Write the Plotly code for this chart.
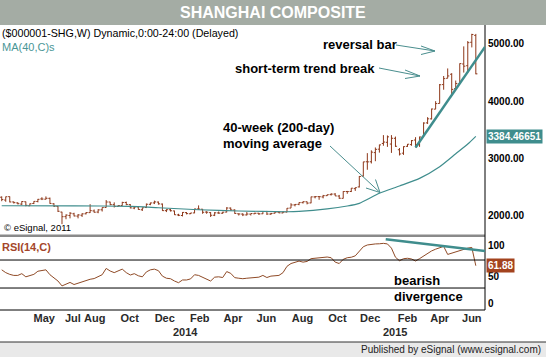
import plotly.graph_objects as go
import pandas as pd

W, H = 546, 357
def fx(x): return x / W
def fy(y): return 1 - y / H

FONT = "Liberation Sans, Arial, sans-serif"
BAR = "#8e381a"
RSI_C = "#8f4a26"
TEAL = "#3f8d8d"

# ---------------- data ----------------
week_dates = pd.date_range("2013-03-15", "2015-06-19", freq="W-FRI")

open_2013 = [2320,2270,2330,2237,2220,2200,2240,2170,2210,2245,2290,2285,2300,2205,2160,2060,1980,2000,2030,1990,2005,2030,2050,2080,2060,2100,2140,2236,2190,2160,2175,2228,2190,2130,2150,2100,2140,2195,2220,2235,2200,2085]
high_2013 = [2335,2331,2333,2245,2232,2250,2245,2210,2250,2290,2320,2334,2314,2215,2166,2065,2020,2060,2048,2025,2040,2060,2198,2105,2110,2140,2270,2240,2230,2180,2240,2243,2200,2160,2160,2140,2210,2225,2260,2245,2210,2110]
low_2013 = [2250,2240,2230,2210,2195,2180,2162,2165,2200,2230,2270,2280,2205,2150,2062,1849,1935,1950,1985,1950,1975,2020,2045,2050,2040,2070,2140,2180,2140,2155,2170,2180,2125,2110,2100,2080,2130,2180,2200,2190,2080,2060]
close_2013 = [2279,2328,2237,2225,2206,2245,2178,2205,2247,2283,2288,2301,2211,2162,2074,1979,2007,2040,1992,2010,2029,2052,2085,2057,2098,2139,2236,2191,2160,2175,2228,2193,2133,2149,2106,2135,2197,2220,2238,2204,2085,2101]

open_2014 = [2100,2080,2010,2000,2050,2030,2045,2115,2110,2060,2050,2005,2045,2040,2060,2130,2095,2030,2025,2010,2025,2030,2040,2030,2070,2025,2040,2060,2045,2060,2130,2185,2195,2225,2240,2220,2325,2330,2325,2347,2365,2375,2340,2300,2420,2420,2470,2500,2690,2940,2940,3100]
high_2014 = [2116,2085,2030,2060,2060,2045,2120,2177,2115,2075,2060,2060,2070,2065,2146,2140,2110,2035,2040,2060,2030,2050,2045,2075,2080,2045,2070,2075,2070,2130,2215,2200,2230,2248,2245,2330,2340,2340,2360,2365,2390,2391,2360,2425,2430,2480,2490,2690,2940,3091,3140,3190]
low_2014 = [2070,2010,1990,1984,2020,2025,2040,2100,2030,2030,1974,1990,2030,2030,2055,2085,2030,2000,1990,2000,2000,2025,2010,2025,2010,2010,2035,2040,2040,2055,2130,2160,2180,2210,2195,2215,2300,2275,2300,2340,2350,2340,2290,2298,2380,2410,2430,2490,2680,2800,2910,2950]
close_2014 = [2083,2013,2004,2054,2033,2044,2115,2113,2056,2057,2004,2047,2042,2058,2131,2098,2036,2027,2011,2026,2035,2039,2029,2070,2026,2036,2059,2047,2060,2127,2185,2194,2226,2241,2217,2326,2331,2329,2347,2364,2374,2342,2302,2420,2418,2478,2487,2683,2938,2938,3108,3157]

open_2015 = [3160,3260,3280,3250,3350,3150,3090,3210,3240,3320,3240,3380,3620,3690,3860,3960,4290,4400,4470,4220,4300,4650,4620,5030,5150]
high_2015 = [3240,3406,3400,3406,3380,3180,3210,3250,3320,3370,3380,3630,3720,3870,4000,4300,4440,4572,4490,4360,4660,4958,5051,5178,5176]
low_2015 = [3100,3220,3200,3095,3200,3050,3060,3200,3220,3190,3200,3380,3600,3680,3860,3960,4200,4400,4100,4200,4300,4500,4500,4940,4470]
close_2015 = [3235,3285,3376,3351,3211,3076,3204,3247,3310,3241,3373,3617,3691,3863,3958,4287,4394,4441,4206,4308,4657,4612,5023,5166,4478]

opens = open_2013 + open_2014 + open_2015
highs = high_2013 + high_2014 + high_2015
lows = low_2013 + low_2014 + low_2015
closes = close_2013 + close_2014 + close_2015

ma_dates = ["2013-03-15","2013-07-19","2013-10-25","2013-12-13","2014-02-21","2014-05-02",
            "2014-07-25","2014-08-15","2014-10-03","2014-11-07","2014-11-28","2015-01-02",
            "2015-02-06","2015-03-13","2015-04-17","2015-05-15","2015-06-05","2015-06-19"]
ma_values = [2171,2170,2160,2136,2101,2079,2066,2072,2115,2166,2213,2388,2516,2650,2854,3080,3250,3384.46651]

rsi_values = [56,52,49.5,48,48,50.5,46,47.5,49.5,54,
              55,56,49,45,40,33,36,38,35,37,
              39,41.5,42.5,43.5,46,49,58,54.3,52,54,
              57,52,48.6,50.5,47.5,46,53,56,57,54.8,
              47,44,43.3,40,37.6,41.5,41.5,43,49,48,
              45,42.5,40,45.5,46,45,53.5,51,44.8,44,
              43.3,44,44.8,44.8,45.5,48,45,47,48,48,
              51.9,61,65,66.5,68.5,67,68,72,72.8,73.3,
              73.8,74.3,73.3,67,65,71,73.3,74,76,83,
              89,91.5,92.5,93,93.2,93.8,93,87,74,69,
              71.9,72.5,71.5,68.6,72,76,80,83,85.5,87.5,
              89.5,78,80,82,84,85.7,87,88,61.88]

price_ticks = [2000, 3000, 4000, 5000]
rsi_ticks = ["100", "50", "0"]
month_tick_dates = ["2013-05-28","2013-07-17","2013-08-24","2013-10-24","2013-12-24","2014-02-23",
                    "2014-04-22","2014-06-19","2014-08-21","2014-10-21","2014-12-17","2015-02-20",
                    "2015-04-17","2015-06-12"]
month_tick_text = ["May","Jul","Aug","Oct","Dec","Feb","Apr","Jun","Aug","Oct","Dec","Feb","Apr","Jun"]
year_labels = [("2014-01-30", "2014"), ("2015-01-30", "2015")]

# ---------------- figure ----------------
fig = go.Figure()
fig.add_trace(go.Ohlc(
    x=week_dates, open=opens, high=highs, low=lows, close=closes,
    increasing=dict(line=dict(color=BAR, width=1)),
    decreasing=dict(line=dict(color=BAR, width=1)),
    tickwidth=0.4, xaxis="x", yaxis="y", hoverinfo="skip", showlegend=False))
fig.add_trace(go.Scatter(
    x=ma_dates, y=ma_values, mode="lines",
    line=dict(color=TEAL, width=1.2, shape="spline", smoothing=0.6),
    xaxis="x", yaxis="y", hoverinfo="skip", showlegend=False))
fig.add_trace(go.Scatter(
    x=week_dates, y=rsi_values, mode="lines",
    line=dict(color=RSI_C, width=1),
    xaxis="x2", yaxis="y2", hoverinfo="skip", showlegend=False))

XR = ["2013-03-12", "2015-07-05"]
xdom = [0, fx(485)]
fig.update_layout(
    width=W, height=H, margin=dict(l=0, r=0, t=0, b=0),
    paper_bgcolor="white", plot_bgcolor="white",
    font=dict(family=FONT, color="black"),
    showlegend=False,
    xaxis=dict(domain=xdom, range=XR, type="date", anchor="y", showticklabels=False,
               showgrid=False, zeroline=False, showline=False, ticks="",
               rangeslider=dict(visible=False), fixedrange=True),
    yaxis=dict(domain=[fy(235), fy(25)], range=[1659, 5332], anchor="x",
               showticklabels=False, showgrid=False, zeroline=False, ticks=""),
    xaxis2=dict(domain=xdom, range=XR, type="date", anchor="y2", matches="x",
                showgrid=False, zeroline=False, showline=False, ticks="",
                tickmode="array", tickvals=month_tick_dates, ticktext=month_tick_text,
                tickfont=dict(family=FONT, size=11, color="#2a2a2a", weight="bold"),
                ticklabelstandoff=0),
    yaxis2=dict(domain=[fy(310), fy(237)], range=[-1.4, 102.9], anchor="x2",
                showticklabels=False, showgrid=False, zeroline=False, ticks=""),
)

shapes = []
# title bar & footer
shapes.append(dict(type="rect", xref="paper", yref="paper", x0=0, x1=1, y0=fy(25), y1=1,
                   fillcolor="#a4aca4", line=dict(width=0), layer="below"))
shapes.append(dict(type="rect", xref="paper", yref="paper", x0=0, x1=1, y0=0, y1=fy(342),
                   fillcolor="#e9e9e9", line=dict(width=0), layer="below"))
shapes.append(dict(type="line", xref="paper", yref="paper", x0=0, x1=1, y0=fy(342), y1=fy(342),
                   line=dict(color="#333333", width=1)))
# panel separator
shapes.append(dict(type="rect", xref="paper", yref="paper", x0=0, x1=fx(485), y0=fy(237), y1=fy(234.5),
                   fillcolor="#8a8a8a", line=dict(width=0)))
# right axis line
shapes.append(dict(type="line", xref="paper", yref="paper", x0=fx(485), x1=fx(485), y0=fy(25), y1=fy(310),
                   line=dict(color="black", width=1)))
# RSI 70/30 lines and bottom border
for lvl in (70, 30):
    shapes.append(dict(type="line", xref="x2 domain", yref="y2", x0=0, x1=1, y0=lvl, y1=lvl,
                       line=dict(color="black", width=1)))
shapes.append(dict(type="line", xref="paper", yref="paper", x0=0, x1=fx(485), y0=fy(310), y1=fy(310),
                   line=dict(color="black", width=1)))
# trend lines
shapes.append(dict(type="line", xref="x", yref="y", x0="2015-03-06", y0=3190, x1="2015-07-05", y1=4950,
                   line=dict(color=TEAL, width=2.5)))
shapes.append(dict(type="line", xref="x2", yref="y2", x0="2015-01-13", y0=99.6, x1="2015-07-05", y1=82.9,
                   line=dict(color=TEAL, width=2.5)))

# arrows (pixel positions)
def arrow(p0, tip, a1, a2):
    out = []
    for a, b in ((p0, tip), (a1, tip), (a2, tip)):
        out.append(dict(type="line", xref="paper", yref="paper",
                        x0=fx(a[0]), y0=fy(a[1]), x1=fx(b[0]), y1=fy(b[1]),
                        line=dict(color="#4a8e8e", width=1)))
    return out
shapes += arrow((396, 45), (435, 51), (421, 46), (421, 54.5))
shapes += arrow((379, 68), (420, 76), (405, 70), (405, 78.5))
shapes += arrow((330, 146), (380, 192.5), (375.5, 179.5), (366, 188))
fig.update_layout(shapes=shapes)

ann = []
def text(x, y, s, size=11, color="black", bold=False, xanchor="left", **kw):
    d = dict(xref="paper", yref="paper", x=fx(x), y=fy(y), text=s, showarrow=False,
             xanchor=xanchor, yanchor="middle",
             font=dict(family=FONT, size=size, color=color, weight="bold" if bold else "normal"))
    d.update(kw)
    ann.append(d)

text(273, 12.5, "SHANGHAI COMPOSITE", size=16, color="white", bold=True, xanchor="center")
text(0, 33, "($000001-SHG,W) Dynamic,0:00-24:00 (Delayed)", size=10.7)
text(0, 47, "MA(40,C)s", size=11, color="#4a9696")
text(2, 228, "© eSignal, 2011", size=9.5)
text(0, 247, "RSI(14,C)", size=11, color="#a4462a", bold=True)

# annotations on chart
text(321, 44, "reversal bar", size=13, bold=True)
text(233, 69, "short-term trend break", size=13, bold=True)
text(221, 127, "40-week (200-day)", size=13, bold=True)
text(221, 143, "moving average", size=13, bold=True)
text(392, 280, "bearish", size=13, bold=True)
text(392, 296, "divergence", size=13, bold=True)

# right axis labels
for v in price_ticks:
    ann.append(dict(xref="paper", yref="y", x=fx(486), y=v, text=f"{v:.2f}", showarrow=False,
                    xanchor="left", yanchor="middle",
                    font=dict(family=FONT, size=10, color="black", weight="bold")))
for lbl, yy in zip(rsi_ticks, (245, 276, 303)):
    text(486, yy, lbl, size=10, bold=True)
ann.append(dict(xref="paper", yref="y", x=fx(485.5), y=ma_values[-1], text=f"{ma_values[-1]:.5f}",
                showarrow=False, xanchor="left", yanchor="middle", bgcolor=TEAL, borderpad=1,
                font=dict(family=FONT, size=10, color="white", weight="bold")))
ann.append(dict(xref="paper", yref="y2", x=fx(485.5), y=rsi_values[-1], text=f"{rsi_values[-1]:.2f}",
                showarrow=False, xanchor="left", yanchor="middle", bgcolor="#a3431e", borderpad=1,
                font=dict(family=FONT, size=10, color="white", weight="bold")))

# year labels
for d, s in year_labels:
    ann.append(dict(xref="x2", yref="paper", x=d, y=fy(332), text=s, showarrow=False,
                    xanchor="center", yanchor="middle",
                    font=dict(family=FONT, size=11, color="#2a2a2a", weight="bold")))

text(543, 349.5, "Published by eSignal (www.esignal.com)", size=10, color="#222222", xanchor="right")

fig.update_layout(annotations=ann)
fig.write_html("out.html", config={"displayModeBar": False},
               post_script="document.body.style.margin='0px';document.body.style.overflow='hidden';")
